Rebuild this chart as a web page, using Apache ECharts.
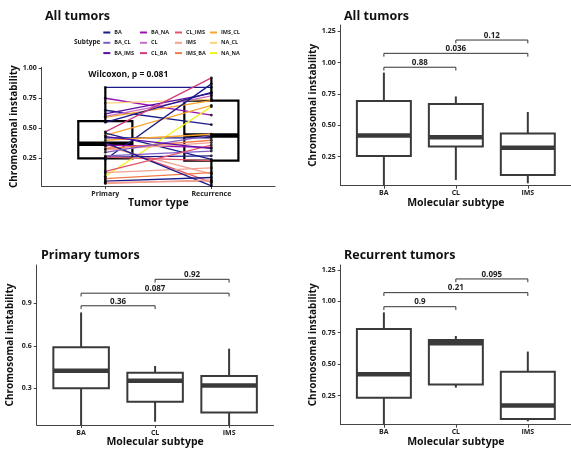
<!DOCTYPE html>
<html><head><meta charset="utf-8">
<script src="https://cdn.jsdelivr.net/npm/echarts@6/dist/echarts.min.js"></script>
<style>html,body{margin:0;padding:0;background:#fff}#c{width:571px;height:450px}</style>
</head><body><div id="c"></div>
<script>
// ---------- data ----------
const tumorTypes = ['Primary', 'Recurrence'];
const molecularSubtypes = ['BA', 'CL', 'IMS'];
const subtypes = ['BA','BA_CL','BA_IMS','BA_NA','CL','CL_BA','CL_IMS','IMS','IMS_BA','IMS_CL','NA_CL','NA_NA'];
const pairPrimary    = [0.84,0.75,0.71,0.65,0.62,0.60,0.59,0.55,0.47,0.44,0.46,0.42,0.24,0.10,0.37,0.35,0.36,0.33,0.32,0.26,0.27,0.26,0.13,0.08,0.06,0.05,0.38,0.40,0.30,0.14,0.04,0.43];
const pairRecurrence = [0.84,0.61,0.74,0.53,0.79,0.77,0.73,0.80,0.92,0.69,0.24,0.42,0.87,0.68,0.05,0.12,0.34,0.40,0.38,0.27,0.31,0.23,0.17,0.13,0.09,0.06,0.02,0.45,0.44,0.36,0.07,0.33];
const pairSubtype    = ['BA','BA_NA','NA_CL','BA','BA_IMS','CL','IMS_CL','BA','CL_BA','IMS_CL','BA','BA','BA','NA_NA','CL_IMS','IMS','BA_NA','IMS_BA','IMS','BA','BA_CL','CL_IMS','IMS','IMS_BA','BA','IMS','BA','IMS_CL','BA_CL','CL_IMS','IMS','BA_IMS'];
// box stats: [lower whisker, Q1, median, Q3, upper whisker]
const pairedBoxes    = [[0.036,0.25,0.37,0.56,0.84],[0.02,0.23,0.44,0.73,0.92]];
const allBoxes       = [[0.02,0.255,0.418,0.694,0.92],[0.064,0.33,0.404,0.67,0.73],[0.037,0.104,0.32,0.434,0.606]];
const primaryBoxes   = [[0.041,0.30,0.424,0.59,0.836],[0.064,0.205,0.354,0.41,0.458],[0.041,0.13,0.32,0.387,0.58]];
const recurrentBoxes = [[0.018,0.233,0.42,0.78,0.912],[0.313,0.337,0.666,0.692,0.724],[0.045,0.064,0.17,0.44,0.60]];
// brackets: [from category, to category, y, p-value]
const allBrackets       = [[1,2,0.963,'0.88'],[1,3,1.074,'0.036'],[2,3,1.18,'0.12']];
const primaryBrackets   = [[1,2,0.883,'0.36'],[1,3,0.972,'0.087'],[2,3,1.07,'0.92']];
const recurrentBrackets = [[1,2,0.957,'0.9'],[1,3,1.069,'0.21'],[2,3,1.178,'0.095']];
const pairedTest = [[0.84, 0.944, 'Wilcoxon, p = 0.081']];
const pairedTicks = [0.25,0.5,0.75,1.0];
const allTicks = [0.25,0.5,0.75,1.0,1.25];
const primaryTicks = [0.3,0.6,0.9];
const recurrentTicks = [0.25,0.5,0.75,1.0,1.25];

// ---------- styles ----------
const palette = {
  BA:'#1a1a8a', BA_CL:'#7d5ec9', BA_IMS:'#5a0ca3', BA_NA:'#9a12b3', CL:'#c96bc4', CL_BA:'#d03a7e',
  CL_IMS:'#e2546a', IMS:'#f2a090', IMS_BA:'#f27a48', IMS_CL:'#f8a431', NA_CL:'#fcd27a', NA_NA:'#f2f222'
};
const FONT = '"Open Sans", "DejaVu Sans", sans-serif';
const txt = '#222';

function xAxis(grid, cats, nm) {
  const vals = cats.map((c, i) => i + 1);
  return {
    type:'value', gridIndex:grid, min:0.4, max:cats.length + 0.6,
    splitLine:{show:false},
    axisLine:{lineStyle:{color:'#444', width:1}},
    axisTick:{customValues:vals, length:3, lineStyle:{color:'#444'}},
    axisLabel:{customValues:vals, formatter:v => cats[Math.round(v) - 1] || '', fontSize:7, fontWeight:'bold', color:txt, fontFamily:FONT, margin:4},
    name:nm, nameLocation:'middle', nameGap:12,
    nameTextStyle:{fontSize:10.5, fontWeight:'bold', color:'#111', fontFamily:FONT}
  };
}
function yAxis(grid, min, max, ticks, dec) {
  return {
    type:'value', gridIndex:grid, min:min, max:max,
    splitLine:{show:false},
    axisLine:{show:true, lineStyle:{color:'#444', width:1}},
    axisTick:{show:true, customValues:ticks, length:3, lineStyle:{color:'#444'}},
    axisLabel:{customValues:ticks, formatter:v => v.toFixed(dec), fontSize:7, fontWeight:'bold', color:txt, fontFamily:FONT, margin:5},
    name:'Chromosomal instability', nameLocation:'middle', nameGap:22,
    nameTextStyle:{fontSize:10, fontWeight:'bold', color:'#111', fontFamily:FONT}
  };
}
function boxSeries(grid, stats, width, color, lw, mlw) {
  return {
    type:'custom', xAxisIndex:grid, yAxisIndex:grid, z:2, silent:true,
    data: stats.map((d, i) => [i + 1].concat(d)),
    encode:{x:0, y:[1,2,3,4,5]},
    renderItem(params, api) {
      const x = api.value(0);
      const pMin = api.coord([x, api.value(1)]);
      const pQ1 = api.coord([x, api.value(2)]);
      const pMed = api.coord([x, api.value(3)]);
      const pQ3 = api.coord([x, api.value(4)]);
      const pMax = api.coord([x, api.value(5)]);
      const half = api.coord([x + width / 2, api.value(3)])[0] - pMed[0];
      const st = {stroke:color, lineWidth:lw, fill:null};
      return {type:'group', children:[
        {type:'line', shape:{x1:pQ3[0], y1:pQ3[1], x2:pMax[0], y2:pMax[1]}, style:st},
        {type:'line', shape:{x1:pQ1[0], y1:pQ1[1], x2:pMin[0], y2:pMin[1]}, style:st},
        {type:'rect', shape:{x:pQ3[0] - half, y:pQ3[1], width:2 * half, height:pQ1[1] - pQ3[1]}, style:st},
        {type:'line', shape:{x1:pMed[0] - half, y1:pMed[1], x2:pMed[0] + half, y2:pMed[1]}, style:{stroke:color, lineWidth:mlw}}
      ]};
    }
  };
}
function bracketSeries(grid, br) {
  return {
    type:'custom', xAxisIndex:grid, yAxisIndex:grid, z:3, silent:true,
    data: br.map(b => [b[0], b[1], b[2]]),
    encode:{x:[0,1], y:2},
    renderItem(params, api) {
      const a = api.coord([api.value(0), api.value(2)]);
      const b = api.coord([api.value(1), api.value(2)]);
      const t = 3.3;
      return {type:'group', children:[
        {type:'polyline', shape:{points:[[a[0], a[1] + t], [a[0], a[1]], [b[0], b[1]], [b[0], b[1] + t]]},
         style:{stroke:'#333', lineWidth:1, fill:null}},
        {type:'text', style:{x:(a[0] + b[0]) / 2, y:a[1] - 0.5, text:br[params.dataIndex][3], align:'center', verticalAlign:'bottom',
          font:'bold 8px ' + FONT, fill:txt}}
      ]};
    }
  };
}

const series = [];
// panel 1: box under lines
series.push(boxSeries(0, pairedBoxes, 0.51, '#000', 2.2, 4.5));
pairPrimary.forEach((p, i) => {
  const s = pairSubtype[i];
  series.push({
    type:'line', name:s, xAxisIndex:0, yAxisIndex:0, z:4, silent:true,
    data:[[1, p], [2, pairRecurrence[i]]], symbol:'none',
    lineStyle:{color:palette[s], width:1.3}, itemStyle:{color:palette[s]}
  });
});
subtypes.forEach(s => {
  if (!pairSubtype.includes(s)) series.push({type:'line', name:s, xAxisIndex:0, yAxisIndex:0, data:[], lineStyle:{color:palette[s]}, itemStyle:{color:palette[s]}});
});
series.push({
  type:'scatter', xAxisIndex:0, yAxisIndex:0, z:5, silent:true, symbolSize:2.8,
  itemStyle:{color:'#000'},
  data: pairPrimary.map(v => [1, v]).concat(pairRecurrence.map(v => [2, v]))
});
series.push({
  type:'custom', xAxisIndex:0, yAxisIndex:0, z:6, silent:true,
  data: pairedTest.map(d => [d[0], d[1]]), encode:{x:0, y:1},
  renderItem(params, api) {
    const p = api.coord([api.value(0), api.value(1)]);
    return {type:'text', style:{x:p[0], y:p[1], text:pairedTest[params.dataIndex][2], align:'left', verticalAlign:'middle',
      font:'bold 8.5px ' + FONT, fill:'#111'}};
  }
});
// panels 2-4
series.push(boxSeries(1, allBoxes, 0.75, '#3a3a3a', 2, 4.5));
series.push(bracketSeries(1, allBrackets));
series.push(boxSeries(2, primaryBoxes, 0.75, '#3a3a3a', 2, 4.5));
series.push(bracketSeries(2, primaryBrackets));
series.push(boxSeries(3, recurrentBoxes, 0.75, '#3a3a3a', 2, 4.5));
series.push(bracketSeries(3, recurrentBrackets));

const legendCols = [[103.3, ['BA','BA_CL','BA_IMS']], [140, ['BA_NA','CL','CL_BA']], [175, ['CL_IMS','IMS','IMS_BA']], [210, ['IMS_CL','NA_CL','NA_NA']]];
const legends = legendCols.map(c => ({
  orient:'vertical', left:c[0], top:27.5, padding:0, itemGap:0.3, itemWidth:7, itemHeight:2, icon:'rect',
  data:c[1], selectedMode:false,
  textStyle:{fontSize:5.5, fontWeight:'bold', color:txt, fontFamily:FONT, lineHeight:10, padding:[0,0,0,-1]}
}));

const option = {
  animation:false,
  backgroundColor:'#fff',
  title:[
    {text:'All tumors', left:40, top:5, textStyle:{fontSize:12.5, fontWeight:'bold', color:'#111', fontFamily:FONT}},
    {text:'All tumors', left:339, top:5, textStyle:{fontSize:12.5, fontWeight:'bold', color:'#111', fontFamily:FONT}},
    {text:'Primary tumors', left:36, top:244, textStyle:{fontSize:12.5, fontWeight:'bold', color:'#111', fontFamily:FONT}},
    {text:'Recurrent tumors', left:339, top:244, textStyle:{fontSize:12.5, fontWeight:'bold', color:'#111', fontFamily:FONT}}
  ],
  legend:legends,
  graphic:[{type:'text', left:74, top:39, style:{text:'Subtype', font:'bold 6.5px ' + FONT, fill:txt}}],
  grid:[
    {left:41.7, top:67.3, width:233.3, height:118.7},
    {left:340.7, top:25, width:233.6, height:160.7},
    {left:36.7, top:265, width:236.8, height:160},
    {left:340.7, top:265, width:233.6, height:159.7}
  ],
  xAxis:[
    xAxis(0, tumorTypes, 'Tumor type'),
    xAxis(1, molecularSubtypes, 'Molecular subtype'),
    xAxis(2, molecularSubtypes, 'Molecular subtype'),
    xAxis(3, molecularSubtypes, 'Molecular subtype')
  ],
  yAxis:[
    yAxis(0, 0.019, 1.008, pairedTicks, 2),
    yAxis(1, 0.018, 1.30, allTicks, 2),
    yAxis(2, 0.041, 1.171, primaryTicks, 1),
    yAxis(3, 0.018, 1.289, recurrentTicks, 2)
  ],
  series:series
};
const chart = echarts.init(document.getElementById('c'), null, {renderer:'canvas'});
chart.setOption(option);
</script></body></html>
